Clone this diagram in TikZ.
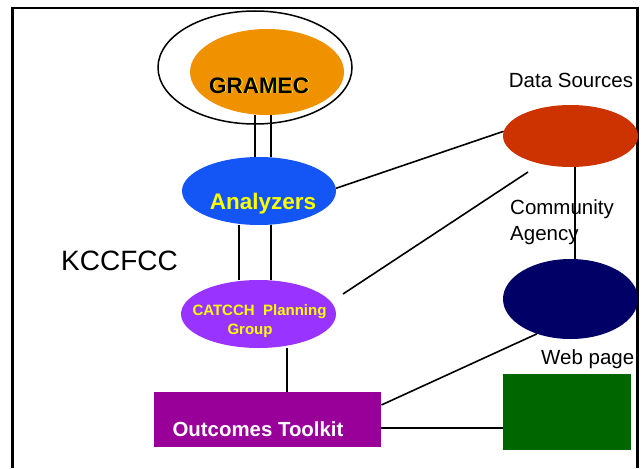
\documentclass[tikz,border=0pt]{standalone}
\usepackage{fontspec}
\setmainfont{Liberation Sans}
\usetikzlibrary{shapes.geometric}
\definecolor{cOrange}{RGB}{240,145,0}
\definecolor{cBlue}{RGB}{20,85,245}
\definecolor{cPurple}{RGB}{153,51,255}
\definecolor{cMagenta}{RGB}{153,0,153}
\definecolor{cRed}{RGB}{204,51,0}
\definecolor{cNavy}{RGB}{0,0,102}
\definecolor{cGreen}{RGB}{0,102,0}
\definecolor{cYellow}{RGB}{255,255,0}
\begin{document}
\begin{tikzpicture}[x=1pt,y=-1pt,
  blob/.style={ellipse, inner sep=0pt, draw=none},
  box/.style={rectangle, inner sep=0pt, draw=none, anchor=north west},
  link/.style={draw=black, line width=1.6pt},
  lbl/.style={inner sep=0pt, anchor=base, font=\fontsize{20.5}{24}\selectfont},
  lblw/.style={lbl, anchor=base west},
  boldtxt/.style={inner sep=0pt, anchor=base, font=\bfseries\fontsize{22.5}{27}\selectfont}
]
\useasboundingbox (0,0) rectangle (644,468);
\fill[white] (0,0) rectangle (644,468);
% frame
\draw[line width=2.5pt] (12.5,468) -- (12.5,8) -- (637.5,8) -- (637.5,468);

% shapes
\node[blob, draw=black, line width=1.5pt, minimum width=194pt, minimum height=113pt] (outer) at (255,67.5) {};
\node[blob, fill=cOrange, minimum width=154pt, minimum height=86pt] (gram) at (267,72) {};
\node[blob, fill=cBlue, minimum width=154pt, minimum height=68pt] (ana) at (259,191) {};
\node[blob, fill=cPurple, minimum width=155pt, minimum height=68pt] (cat) at (258.5,314) {};
\node[blob, fill=cRed, minimum width=135pt, minimum height=62pt] (ds) at (570.5,136) {};
\node[blob, fill=cNavy, minimum width=135pt, minimum height=80pt] (navy) at (570.5,299) {};
\node[box, fill=cMagenta, minimum width=227pt, minimum height=55pt] (out) at (154,392) {};
\node[box, fill=cGreen, minimum width=128pt, minimum height=76pt] (web) at (503,374) {};

% connectors
\draw[link] (gram.south -| 255,0) -- (ana.north -| 255,0);
\draw[link] (gram.south -| 271,0) -- (ana.north -| 271,0);
\draw[link] (ana.south -| 239,0) -- (cat.north -| 239,0);
\draw[link] (ana.south -| 271,0) -- (cat.north -| 271,0);
\draw[link] (cat.south -| 287,0) -- (out.north -| 287,0);
\draw[link] (ds.south -| 575,0) -- (navy.north -| 575,0);
\draw[link] (ana.2) -- (ds.176);
\coordinate (catds1) at (343,294);
\coordinate (catds2) at (528,172);
\draw[link] (catds1) -- (catds2);
\draw[link] (out.east |- 0,405) -- (navy.226);
\draw[link] (out.east |- 0,428) -- (web.west |- 0,428);

% texts
\node[boldtxt, text=cYellow] (gramshadow) at (260,94) {GRAMEC};
\node[boldtxt, text=black] (gramtxt) at (259,93) {GRAMEC};
\node[boldtxt, text=cYellow] (anatxt) at (263,209) {Analyzers};
\node[inner sep=0pt, anchor=base, text=cYellow, font=\bfseries\fontsize{15}{18}\selectfont] (cattxt1) at (259.5,315) {CATCCH\hspace{0.28em}\hspace{0.28em}Planning};
\node[inner sep=0pt, anchor=base, text=cYellow, font=\bfseries\fontsize{15}{18}\selectfont] (cattxt2) at (250,334) {Group};
\node[inner sep=0pt, anchor=base, text=white, font=\bfseries\fontsize{20.4}{24}\selectfont] (outtxt) at (258,436) {Outcomes Toolkit};
\node[lbl] (dstxt) at (571,88) {Data Sources};
\node[lblw] (commtxt) at (510,214) {Community};
\node[lblw] (agtxt) at (510,240) {Agency};
\node[lblw] (webtxt) at (541,364) {Web page};
\node[inner sep=0pt, anchor=base west, font=\fontsize{28}{32}\selectfont] (kcc) at (61,270) {KCCFCC};
\end{tikzpicture}
\end{document}
